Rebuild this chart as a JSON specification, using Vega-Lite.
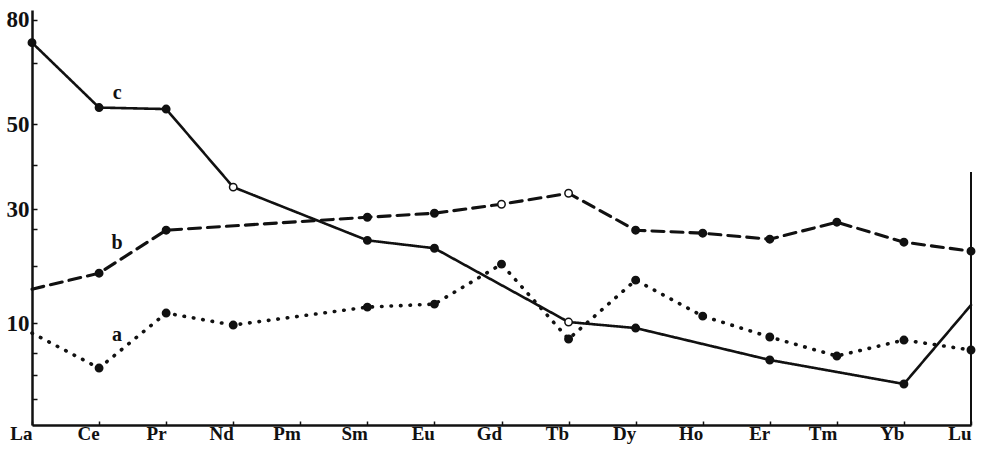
{
  "$schema": "https://vega.github.io/schema/vega-lite/v6.json",
  "width": 939,
  "height": 415,
  "autosize": {"type": "none"},
  "padding": {"left": 32, "top": 10, "right": 12, "bottom": 34},
  "background": "white",
  "config": {"view": {"stroke": null}, "font": "Liberation Serif"},
  "data": {
    "values": [
      {"series": "a", "element": "La", "value": 8.71},
      {"series": "a", "element": "Ce", "value": 4.69},
      {"series": "a", "element": "Pr", "value": 11.44},
      {"series": "a", "element": "Nd", "value": 9.77},
      {"series": "a", "element": "Sm", "value": 12.31},
      {"series": "a", "element": "Eu", "value": 12.76},
      {"series": "a", "element": "Gd", "value": 19.3},
      {"series": "a", "element": "Tb", "value": 7.96},
      {"series": "a", "element": "Dy", "value": 16.56},
      {"series": "a", "element": "Ho", "value": 11.01},
      {"series": "a", "element": "Er", "value": 8.21},
      {"series": "a", "element": "Tm", "value": 5.96},
      {"series": "a", "element": "Yb", "value": 7.83},
      {"series": "a", "element": "Lu", "value": 6.64},
      {"series": "b", "element": "La", "value": 15.08},
      {"series": "b", "element": "Ce", "value": 17.73},
      {"series": "b", "element": "Pr", "value": 25.68},
      {"series": "b", "element": "Sm", "value": 28.31},
      {"series": "b", "element": "Eu", "value": 29.14},
      {"series": "b", "element": "Gd", "value": 31.04},
      {"series": "b", "element": "Tb", "value": 33.43},
      {"series": "b", "element": "Dy", "value": 25.68},
      {"series": "b", "element": "Ho", "value": 25.09},
      {"series": "b", "element": "Er", "value": 23.92},
      {"series": "b", "element": "Tm", "value": 27.29},
      {"series": "b", "element": "Yb", "value": 23.35},
      {"series": "b", "element": "Lu", "value": 21.66},
      {"series": "c", "element": "La", "value": 72.9},
      {"series": "c", "element": "Ce", "value": 54.4},
      {"series": "c", "element": "Pr", "value": 54.0},
      {"series": "c", "element": "Nd", "value": 34.8},
      {"series": "c", "element": "Sm", "value": 23.7},
      {"series": "c", "element": "Eu", "value": 22.2},
      {"series": "c", "element": "Tb", "value": 10.18},
      {"series": "c", "element": "Dy", "value": 9.37},
      {"series": "c", "element": "Er", "value": 5.53},
      {"series": "c", "element": "Yb", "value": 3.2},
      {"series": "c", "element": "Lu", "value": 12.61}
    ]
  },
  "layer": [
    {
      "mark": {"type": "rule", "strokeWidth": 1.8, "color": "#111"},
      "encoding": {
        "x": {"datum": "Lu", "type": "ordinal"},
        "y": {"datum": 38.2, "type": "quantitative"},
        "y2": {"datum": 0.52}
      }
    },
    {
      "mark": {"type": "line", "color": "#111", "strokeCap": "round"},
      "encoding": {
        "x": {
          "field": "element", "type": "ordinal",
          "sort": ["La","Ce","Pr","Nd","Pm","Sm","Eu","Gd","Tb","Dy","Ho","Er","Tm","Yb","Lu"],
          "scale": {"type": "point", "padding": 0, "domain": ["La","Ce","Pr","Nd","Pm","Sm","Eu","Gd","Tb","Dy","Ho","Er","Tm","Yb","Lu"]},
          "axis": {
            "title": null, "labelAngle": 0, "labelFont": "Liberation Serif", "labelFontWeight": "bold",
            "labelFontSize": 19, "labelColor": "#111", "domainColor": "#111", "domainWidth": 2.5,
            "tickColor": "#111", "tickSize": -4, "tickWidth": 1.5, "labelPadding": 12, "grid": false
          }
        },
        "y": {
          "field": "value", "type": "quantitative",
          "scale": {"type": "pow", "exponent": 0.6, "domain": [0.52, 83], "nice": false, "zero": false},
          "axis": {
            "title": null, "values": [80, 67, 50, 40, 30, 26, 19, 10, 6.3, 4, 2],
            "labelExpr": "(datum.value == 80 || datum.value == 50 || datum.value == 30 || datum.value == 10) ? datum.label : ''",
            "labelFont": "Liberation Serif", "labelFontWeight": "bold", "labelFontSize": 23, "labelColor": "#111",
            "domainColor": "#111", "domainWidth": 2.5, "tickColor": "#111", "tickSize": -5, "tickWidth": 1.5,
            "labelPadding": 8, "grid": false
          }
        },
        "strokeDash": {
          "field": "series", "type": "nominal",
          "scale": {"domain": ["a", "b", "c"], "range": [[0.5, 9], [12, 7], [1, 0]]},
          "legend": null
        },
        "strokeWidth": {
          "field": "series", "type": "nominal",
          "scale": {"domain": ["a", "b", "c"], "range": [3.6, 2.6, 2.4]},
          "legend": null
        }
      }
    },
    {
      "transform": [
        {"filter": "!(datum.element == 'La' && datum.series != 'c') && !(datum.element == 'Lu' && datum.series == 'c')"}
      ],
      "mark": {"type": "point", "filled": true, "size": 55, "stroke": "#111", "strokeWidth": 1.5, "opacity": 1},
      "encoding": {
        "x": {"field": "element", "type": "ordinal"},
        "y": {"field": "value", "type": "quantitative"},
        "fill": {
          "condition": {
            "test": "(datum.series == 'c' && (datum.element == 'Nd' || datum.element == 'Tb')) || (datum.series == 'b' && (datum.element == 'Gd' || datum.element == 'Tb'))",
            "value": "white"
          },
          "value": "#111"
        }
      }
    },
    {
      "data": {
        "values": [
          {"label": "c", "element": "Ce", "value": 58.5},
          {"label": "b", "element": "Ce", "value": 23.2},
          {"label": "a", "element": "Ce", "value": 8.46}
        ]
      },
      "mark": {"type": "text", "dx": 18, "font": "Liberation Serif", "fontWeight": "bold", "fontSize": 20, "color": "#111"},
      "encoding": {
        "x": {"field": "element", "type": "ordinal"},
        "y": {"field": "value", "type": "quantitative"},
        "text": {"field": "label"}
      }
    }
  ]
}
